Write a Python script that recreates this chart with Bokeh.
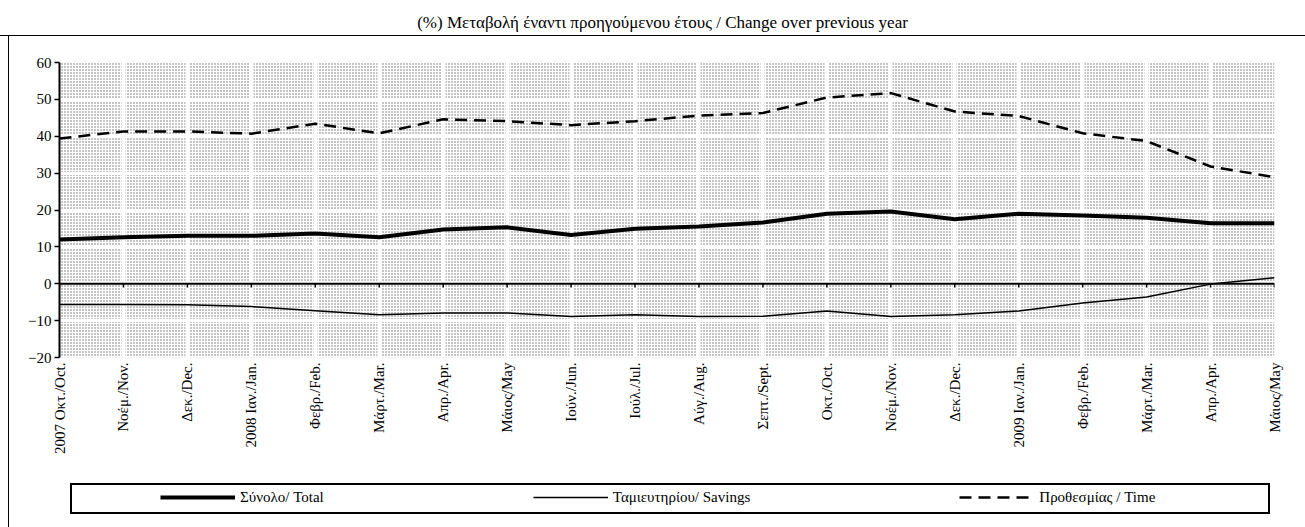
import math
from bokeh.plotting import figure
from bokeh.layouts import column
from bokeh.models import FixedTicker, Span, BoxAnnotation, Legend, Label
from bokeh.embed import file_html
from bokeh.resources import INLINE

title_text = "(%) Μεταβολή έναντι προηγούμενου έτους / Change over previous year"

months = ["2007 Οκτ./Oct.", "Νοέμ./Nov.", "Δεκ./Dec.", "2008 Ιαν./Jan.", "Φεβρ./Feb.",
          "Μάρτ./Mar.", "Απρ./Apr.", "Μάιος/May", "Ιούν./Jun.", "Ιούλ./Jul.",
          "Αύγ./Aug.", "Σεπτ./Sept.", "Οκτ./Oct.", "Νοέμ./Nov.", "Δεκ./Dec.",
          "2009 Ιαν./Jan.", "Φεβρ./Feb.", "Μάρτ./Mar.", "Απρ./Apr.", "Μάιος/May"]

total = [12.0, 12.6, 13.0, 13.0, 13.6, 12.6, 14.7, 15.3, 13.2, 14.9,
         15.5, 16.6, 19.0, 19.6, 17.5, 19.0, 18.5, 17.9, 16.4, 16.4]
savings = [-5.6, -5.6, -5.7, -6.2, -7.3, -8.4, -7.9, -7.9, -8.9, -8.4,
           -8.9, -8.8, -7.4, -8.9, -8.4, -7.4, -5.2, -3.6, -0.1, 1.6]
time_dep = [39.4, 41.3, 41.3, 40.7, 43.4, 40.8, 44.6, 44.1, 43.0, 44.1,
            45.6, 46.3, 50.5, 51.7, 46.7, 45.5, 40.8, 38.7, 31.8, 28.9]

series_names = ["Σύνολο/ Total", "Ταμιευτηρίου/ Savings", "Προθεσμίας / Time"]
y_ticks = [-20, -10, 0, 10, 20, 30, 40, 50, 60]

FONT = "Liberation Serif"
W = 1305
x = list(range(len(months)))
n = len(months)
series = [total, savings, time_dep]

line_styles = [dict(line_color="black", line_width=4),
               dict(line_color="black", line_width=1.5),
               dict(line_color="black", line_width=2.5, line_dash="12 7")]


def bare(fig):
    fig.title = None
    fig.border_fill_alpha = 0
    fig.background_fill_alpha = 0
    fig.outline_line_color = None
    fig.grid.visible = False


# ---------- title strip (frame aligned with the chart frame) ----------
p0 = figure(width=W, height=35, output_backend="svg", toolbar_location=None,
            x_axis_type=None, y_axis_type=None, min_border=0, x_range=(0, 1), y_range=(0, 1))
bare(p0)
p0.add_layout(Label(x=603, y=13, x_units="screen", y_units="screen", text=title_text,
                    text_align="center", text_baseline="middle", text_font=FONT,
                    text_font_size="17px", text_color="black"))

# ---------- main chart ----------
p = figure(width=W, height=435, output_backend="svg", toolbar_location=None,
           x_range=(0, n - 1), y_range=(y_ticks[0], y_ticks[-1]),
           min_border_left=59, min_border_right=31, min_border_top=27, min_border_bottom=113)
p.title = None
p.border_fill_alpha = 0
p.background_fill_color = "white"
p.outline_line_color = None
p.styles = {
    "background-image": "linear-gradient(#000,#000), linear-gradient(#000,#000)",
    "background-repeat": "no-repeat",
    "background-size": "100% 1px, 1px 100%",
    "background-position": "0px 0px, 8px 0px",
}

# stippled plot-area fill
p.add_layout(BoxAnnotation(fill_color="white", fill_alpha=1.0, hatch_pattern="dot",
                           hatch_color="#6a6a6a", hatch_scale=3, hatch_weight=1,
                           line_color=None, level="image"))

p.yaxis.ticker = FixedTicker(ticks=y_ticks)
p.yaxis.minor_tick_line_color = None
p.yaxis.major_tick_out = 5
p.yaxis.major_tick_in = 0
p.yaxis.axis_line_width = 2
p.yaxis.major_tick_line_width = 1.5
p.yaxis.major_label_standoff = 3
p.yaxis.major_label_text_font = FONT
p.yaxis.major_label_text_font_size = "15px"
p.yaxis.major_label_text_color = "black"

p.xaxis.ticker = FixedTicker(ticks=x)
p.xaxis.major_label_overrides = {i: m for i, m in enumerate(months)}
p.xaxis.major_label_orientation = math.pi / 2
p.xaxis.axis_line_color = None
p.xaxis.major_tick_line_color = None
p.xaxis.minor_tick_line_color = None
p.xaxis.major_tick_out = 0
p.xaxis.major_tick_in = 0
p.xaxis.major_label_standoff = 5
p.xaxis.major_label_text_font = FONT
p.xaxis.major_label_text_font_size = "15px"
p.xaxis.major_label_text_color = "black"

p.xgrid.grid_line_color = "white"
p.xgrid.grid_line_width = 4
p.ygrid.grid_line_color = "white"
p.ygrid.grid_line_width = 3
p.ygrid.ticker = FixedTicker(ticks=y_ticks)

p.add_layout(Span(location=0, dimension="width", line_color="black", line_width=2))
p.segment(x0=x, y0=[0] * n, x1=x, y1=[-1.0] * n, line_color="black", line_width=1.5)

for vals, st in zip(series, line_styles):
    p.line(x, vals, **st)

# ---------- legend strip (frame aligned with the chart frame) ----------
p2 = figure(width=W, height=57, output_backend="svg", toolbar_location=None,
            x_axis_type=None, y_axis_type=None, min_border=0,
            x_range=(-3, -2), y_range=(100, 101))
bare(p2)
p2.styles = {
    "background-image": ", ".join(["linear-gradient(#000,#000)"] * 5),
    "background-repeat": "no-repeat",
    "background-size": "1px 100%, 1200px 2px, 1200px 2px, 2px 31px, 2px 31px",
    "background-position": "8px 0px, 70px 13px, 70px 42px, 70px 13px, 1268px 13px",
}
# same series, out of this strip's view: only their legend swatches show
leg_renderers = [p2.line(x, vals, **st) for vals, st in zip(series, line_styles)]
legend = Legend(items=[(name, [r]) for name, r in zip(series_names, leg_renderers)],
                orientation="horizontal", location=(97, 16), spacing=209, margin=0,
                label_standoff=5, glyph_width=75, glyph_height=20, padding=4,
                border_line_alpha=0, background_fill_alpha=0,
                label_text_font=FONT, label_text_font_size="15px", label_text_color="black")
p2.add_layout(legend)

layout = column(p0, p, p2, spacing=0)
open("out.html", "w").write(file_html(layout, INLINE))
